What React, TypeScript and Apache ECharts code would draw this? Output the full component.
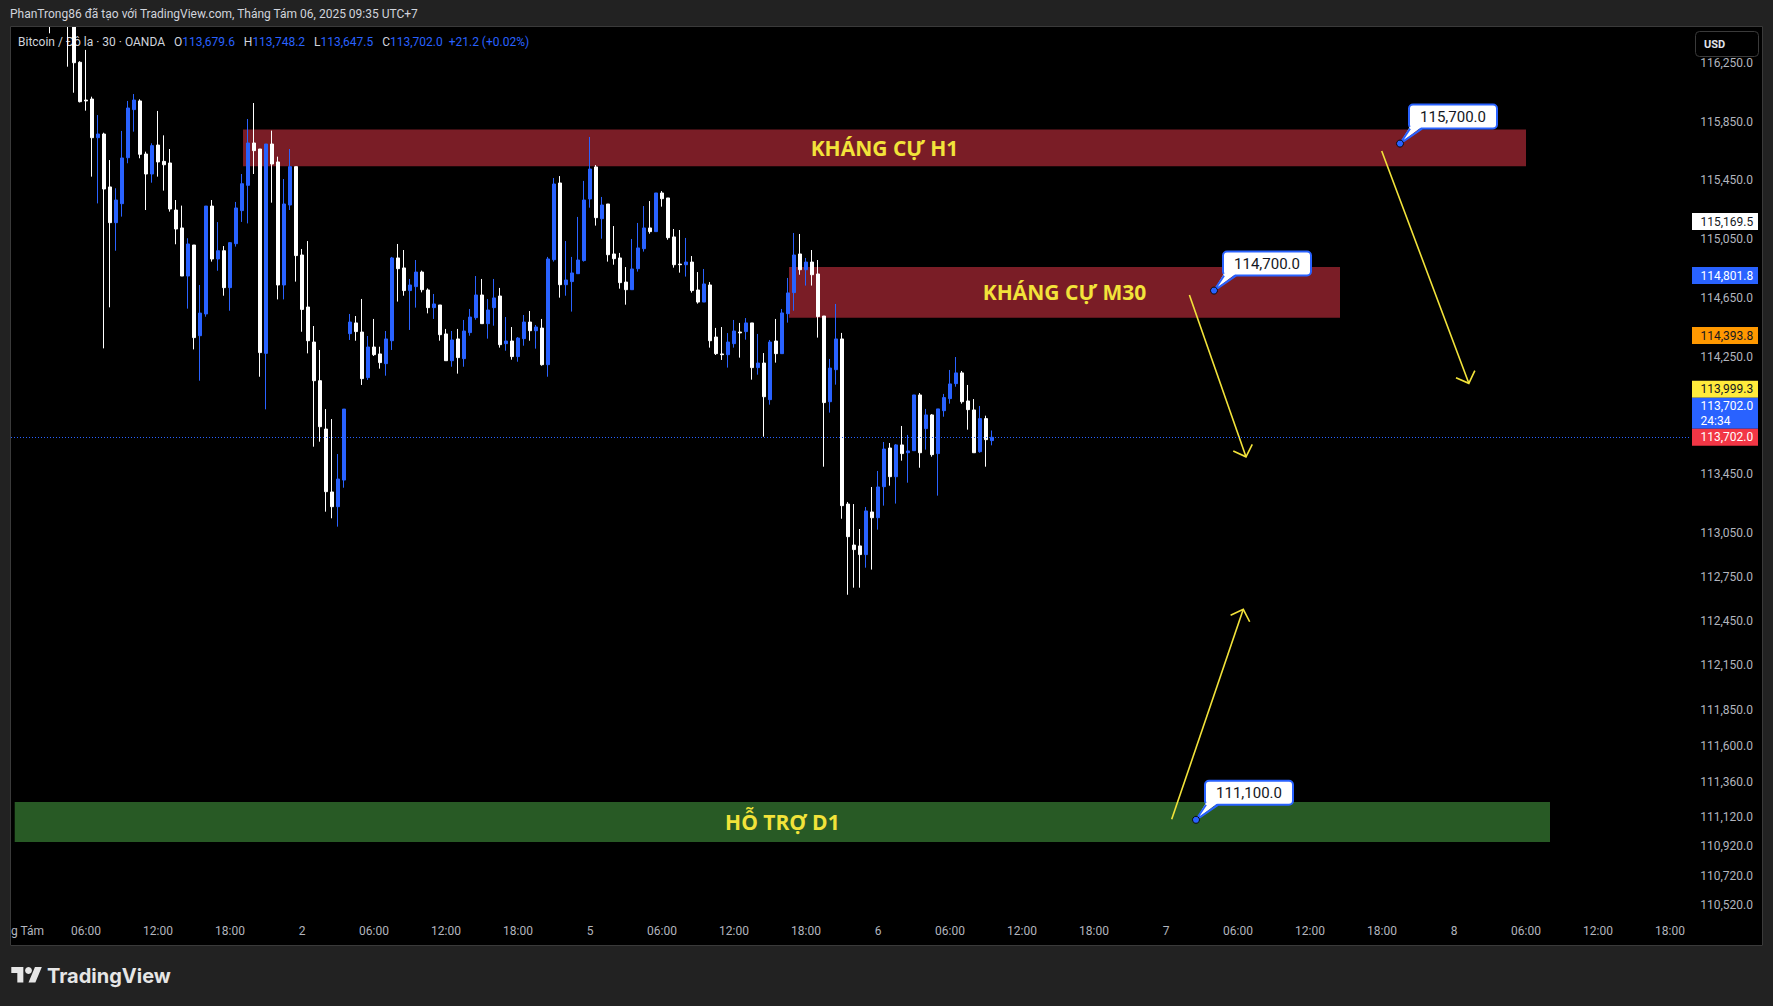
import React, { useEffect, useRef } from 'react';
import * as echarts from 'echarts';

// ---------- DATA ----------
const candleStart = 6; // first slot that holds a candle (30-min slots from 1 Aug 00:00)
const opens = [
  116720, 116600, 116780, 116600, 116520, 116253, 115996, 116003, 115740, 115765,
  115405, 115162, 115291, 115604, 115931, 115990, 115629, 115493, 115690, 115579,
  115568, 115248, 115126, 114799, 115010, 114393, 114541, 115275, 114915, 114971,
  114720, 115019, 115244, 115416, 115704, 115663, 114273, 115697, 115575, 114738,
  115282, 115543, 114942, 114588, 114350, 114087, 113758, 113330, 113230, 113411,
  114407, 114480, 114418, 114108, 114316, 114269, 114203, 114359, 114922, 114854,
  114700, 114727, 114826, 114704, 114584, 114602, 114405, 114223, 114371, 114237,
  114414, 114516, 114670, 114475, 114584, 114663, 114339, 114357, 114251, 114373,
  114486, 114427, 114445, 114196, 114910, 115432, 114740, 114761, 114815, 114904,
  115323, 115541, 115189, 115289, 114949, 114922, 114758, 114706, 114849, 114985,
  115126, 115101, 115364, 115330, 115065, 114880, 114876, 114894, 114704, 114622,
  114738, 114384, 114269, 114264, 114339, 114418, 114421, 114480, 114176, 114207,
  113958, 114357, 114271, 114543, 114686, 114949, 114842, 114894, 114813, 114527,
  113944, 114162, 114371, 113248, 112969, 112963, 112904, 113194, 113155, 113366,
  113629, 113434, 113650, 113597, 113611, 113990, 113761, 113854, 113591, 113883,
  113965, 114067, 114140, 113949, 113888, 113604, 113829, 113679.6
];
const highs = [
  116780, 116850, 116900, 116650, 116560, 116260, 116337, 116019, 115894, 115774,
  115588, 115396, 115786, 115990, 116037, 116001, 115645, 115702, 115922, 115756,
  115663, 115316, 115278, 115056, 115010, 114738, 115275, 115316, 115166, 115003,
  115030, 115303, 115493, 115867, 115976, 115663, 115697, 115788, 115611, 115459,
  115663, 115543, 114983, 115037, 114459, 114296, 113894, 113826, 113588, 113894,
  114541, 114527, 114643, 114391, 114507, 114318, 114425, 114929, 115017, 114976,
  114779, 114908, 114836, 114715, 114677, 114602, 114439, 114425, 114439, 114500,
  114575, 114799, 114779, 114643, 114779, 114718, 114520, 114452, 114384, 114534,
  114561, 114466, 114507, 114929, 115466, 115479, 115037, 114929, 115201, 115446,
  115745, 115554, 115337, 115289, 115139, 114956, 114860, 115051, 115160, 115275,
  115309, 115364, 115377, 115330, 115119, 115112, 115058, 114935, 114826, 114847,
  114758, 114446, 114452, 114411, 114500, 114480, 114513, 114480, 114405, 114275,
  114364, 114507, 114575, 114786, 115092, 115085, 114922, 114976, 114908, 114527,
  114235, 114609, 114412, 113262, 113248, 113078, 113228, 113364, 113473, 113670,
  113663, 113656, 113779, 113718, 113990, 114003, 113895, 113860, 113895, 113997,
  114160, 114248, 114153, 114058, 113962, 113915, 113849, 113748.2
];
const lows = [
  116450, 116560, 116580, 116223, 116046, 115980, 115924, 115475, 115293, 114307,
  114586, 114971, 115203, 115566, 115781, 115600, 115248, 115434, 115475, 115380,
  115237, 115015, 114799, 114577, 114300, 114087, 114522, 114897, 114835, 114665,
  114563, 114999, 115167, 115157, 115493, 114114, 113892, 115298, 114640, 114640,
  115248, 114761, 114420, 114273, 113638, 113672, 113196, 113151, 113094, 113359,
  114364, 114359, 114058, 114092, 114255, 114169, 114121, 114296, 114625, 114665,
  114432, 114584, 114688, 114545, 114507, 114359, 114223, 114182, 114135, 114182,
  114393, 114502, 114475, 114373, 114461, 114312, 114291, 114230, 114216, 114325,
  114359, 114305, 114189, 114114, 114897, 114652, 114665, 114557, 114815, 114897,
  115264, 115142, 115053, 114897, 114876, 114713, 114604, 114706, 114829, 114965,
  115087, 115101, 115271, 115046, 114856, 114822, 114795, 114686, 114611, 114622,
  114312, 114262, 114228, 114176, 114312, 114244, 114366, 114094, 114128, 113706,
  113924, 114210, 114271, 114482, 114563, 114808, 114734, 114734, 114380, 113502,
  113870, 114060, 113148, 112631, 112679, 112679, 112815, 112802, 113074, 113237,
  113373, 113251, 113543, 113393, 113611, 113495, 113618, 113570, 113305, 113842,
  113931, 114046, 113931, 113754, 113597, 113597, 113502, 113647.5
];
const closes = [
  116540, 116780, 116680, 116520, 116250, 115985, 115990, 115740, 115765, 115391,
  115162, 115316, 115602, 115942, 115996, 115627, 115493, 115686, 115575, 115556,
  115255, 115119, 114799, 115017, 114380, 114547, 115275, 114915, 114971, 114720,
  115026, 115262, 115427, 115704, 115652, 114278, 115697, 115561, 114738, 115289,
  115543, 114938, 114572, 114359, 114087, 113774, 113332, 113230, 113418, 113894,
  114486, 114421, 114101, 114316, 114264, 114210, 114371, 114922, 114849, 114700,
  114738, 114826, 114706, 114584, 114609, 114400, 114223, 114364, 114244, 114425,
  114520, 114670, 114475, 114568, 114650, 114332, 114357, 114251, 114377, 114486,
  114427, 114452, 114196, 114915, 115425, 114740, 114772, 114820, 114908, 115316,
  115527, 115196, 115282, 114944, 114917, 114754, 114706, 114847, 114990, 115126,
  115101, 115364, 115325, 115060, 114876, 114876, 114894, 114700, 114622, 114745,
  114359, 114271, 114264, 114350, 114425, 114412, 114480, 114176, 114207, 113978,
  114350, 114271, 114548, 114684, 114942, 114842, 114894, 114808, 114523, 113938,
  114173, 114371, 113237, 113026, 112938, 112904, 113201, 113155, 113364, 113622,
  113434, 113650, 113591, 113609, 113990, 113597, 113854, 113584, 113895, 113972,
  114065, 114140, 113944, 113890, 113597, 113829, 113686, 113702.0
];

const slotCount = 280;
const slots = Array.from({ length: slotCount }, (_, i) => String(i));
const tickLabels = [
  'Tháng Tám', '06:00', '12:00', '18:00', '2', '06:00', '12:00', '18:00',
  '5', '06:00', '12:00', '18:00', '6', '06:00', '12:00', '18:00',
  '7', '06:00', '12:00', '18:00', '8', '06:00', '12:00', '18:00'
];
const priceTicks = [
  116250, 115850, 115450, 115050, 114650, 114250, 113450, 113050, 112750,
  112450, 112150, 111850, 111600, 111360, 111120, 110920, 110720, 110520
];
const priceMin = 110432;
const priceMax = 116493;

const zoneNames = ['KHÁNG CỰ H1', 'KHÁNG CỰ M30', 'HỖ TRỢ D1'];
const zoneFrom = [38.17, 129.17, 0.12];
const zoneTo = [252, 221, 256];
const zoneTop = [115795, 114860, 111221];
const zoneBottom = [115545, 114515, 110949];
const zoneColors = ['#7a1d26', '#7a1d26', '#285a25'];

const calloutSlot = [231, 200, 197];
const calloutPrice = [115700, 114700, 111100];

const arrowFromSlot = [227.95, 195.9, 192.95];
const arrowFromPrice = [115650, 114670, 111103];
const arrowToSlot = [242.47, 205.33, 204.88];
const arrowToPrice = [114069, 113569, 112532];

const tagPrices = [115169.5, 114801.8, 114393.8, 113999.3, 113702.0, 113702.0];
const tagSub = ['', '', '', '', '24:34', ''];
const tagBg = ['#ffffff', '#2962ff', '#ff9800', '#ffeb3b', '#2962ff', '#f23645'];
const tagFg = ['#131722', '#ffffff', '#131722', '#131722', '#ffffff', '#ffffff'];

const lastPrice = 113702.0;
const ohlcLabels = ['O', 'H', 'L', 'C'];
const ohlcValues = [113679.6, 113748.2, 113647.5, 113702.0];
const changeText = '+21.2 (+0.02%)';
const symbolText = 'Bitcoin / Đô la · 30 · OANDA';
const headerText = 'PhanTrong86 đã tạo với TradingView.com, Tháng Tám 06, 2025 09:35 UTC+7';

// ---------- HELPERS ----------
const fmt = (v: number) =>
  v.toLocaleString('en-US', { minimumFractionDigits: 1, maximumFractionDigits: 1 });

const YELLOW = '#f2e33a';
const BLUE = '#2962ff';
const AXIS_TEXT = '#b2b5be';
const FRAME = '#222222';

let logoRegistered = false;
function registerLogo() {
  if (logoRegistered) return;
  const Logo = echarts.graphic.extendPath('M14 22H7V11H0V4h14v18zM28 22h-8l7.5-18h8L28 22z', {});
  echarts.graphic.registerShape('tvLogo', Logo);
  logoRegistered = true;
}

export default function App() {
  const ref = useRef<HTMLDivElement | null>(null);

  useEffect(() => {
    if (!ref.current) return;
    registerLogo();
    const chart = echarts.init(ref.current, null, { renderer: 'svg' });

    const candleData: any[] = slots.slice(0, candleStart + opens.length).map((_, i) => {
      if (i < candleStart) return '-';
      const k = i - candleStart;
      return [opens[k], closes[k], lows[k], highs[k]];
    });

    const legendRich =
      `{g|${symbolText}}   ` +
      ohlcLabels.map((l, i) => `{g|${l}}{b|${fmt(ohlcValues[i])}}`).join('   ') +
      `  {b|${changeText}}`;

    const option: any = {
      animation: false,
      backgroundColor: 'transparent',
      grid: {
        left: 11, top: 27, width: 1680, height: 891,
        containLabel: false, outerBoundsMode: 'none'
      },
      xAxis: [
        {
          type: 'category',
          data: slots,
          boundaryGap: true,
          axisLine: { show: false },
          axisTick: { show: false },
          splitLine: { show: false },
          axisLabel: {
            interval: (i: number) => i % 12 === 0,
            formatter: (_v: string, i: number) => tickLabels[i / 12] ?? '',
            color: AXIS_TEXT,
            fontSize: 12,
            fontFamily: 'Roboto',
            margin: 7
          }
        },
        { type: 'value', min: -0.5, max: slotCount - 0.5, show: false }
      ],
      yAxis: {
        type: 'value',
        position: 'right',
        min: priceMin,
        max: priceMax,
        splitLine: { show: false },
        axisLine: { show: false },
        axisTick: { show: false },
        axisLabel: {
          customValues: priceTicks,
          formatter: (v: number) => fmt(v),
          align: 'right',
          margin: 62,
          color: AXIS_TEXT,
          fontSize: 12,
          fontFamily: 'Roboto'
        }
      },
      graphic: [
        {
          type: 'rect', z: -10, silent: true,
          shape: { x: 10, y: 26, width: 1753, height: 920 },
          style: { fill: '#000000' }
        },
        {
          type: 'rect', z: 50, silent: true,
          shape: { x: 0, y: 0, width: 1773, height: 26.5 },
          style: { fill: FRAME }
        },
        {
          type: 'text', z: 51, silent: true, x: 10, y: 14,
          style: { text: headerText, fill: '#d1d4dc', font: '12px Roboto', verticalAlign: 'middle' }
        },
        {
          type: 'text', z: 1, silent: true, x: 18, y: 42,
          style: {
            text: legendRich,
            font: '12px Roboto',
            fill: '#d1d4dc',
            verticalAlign: 'middle',
            rich: {
              g: { fill: '#d1d4dc', font: '12px Roboto' },
              b: { fill: BLUE, font: '12px Roboto' }
            }
          }
        },
        {
          type: 'rect', z: 10, silent: true,
          shape: { x: 1695.5, y: 31.5, width: 63, height: 25, r: 4 },
          style: { fill: '#000000', stroke: '#3a3a3a', lineWidth: 1 }
        },
        {
          type: 'text', z: 11, silent: true, x: 1704, y: 44,
          style: { text: 'USD', fill: '#e0e3eb', font: 'bold 11px Roboto', verticalAlign: 'middle' }
        },
        {
          type: 'rect', z: 100, silent: true,
          shape: { x: 0, y: 919, width: 10, height: 40 },
          style: { fill: FRAME }
        },
        {
          type: 'rect', z: 101, silent: true,
          shape: { x: 10.5, y: 26.5, width: 1752, height: 919 },
          style: { fill: 'none', stroke: '#3a3a3a', lineWidth: 1 }
        },
        {
          type: 'tvLogo', z: 1, silent: true, x: 11.3, y: 963.6, scaleX: 0.86, scaleY: 0.86,
          style: { fill: '#e6e6e6' }
        },
        {
          type: 'circle', z: 1, silent: true,
          shape: { cx: 11.3 + 20 * 0.86, cy: 963.6 + 8 * 0.86, r: 4 * 0.86 },
          style: { fill: '#e6e6e6' }
        },
        {
          type: 'text', z: 1, silent: true, x: 47, y: 976,
          style: { text: 'TradingView', fill: '#e6e6e6', font: 'bold 20px Inter', verticalAlign: 'middle' }
        }
      ],
      series: [
        {
          type: 'custom',
          name: 'zones',
          xAxisIndex: 1,
          yAxisIndex: 0,
          z: 1,
          silent: true,
          data: zoneNames.map((_, i) => [zoneFrom[i], zoneTo[i], zoneTop[i], zoneBottom[i]]),
          encode: { x: [0, 1], y: [2, 3] },
          renderItem: (params: any, api: any) => {
            const i = params.dataIndex;
            const p1 = api.coord([api.value(0), api.value(2)]);
            const p2 = api.coord([api.value(1), api.value(3)]);
            return {
              type: 'group',
              children: [
                {
                  type: 'rect',
                  shape: { x: p1[0], y: p1[1], width: p2[0] - p1[0], height: p2[1] - p1[1] },
                  style: { fill: zoneColors[i] }
                },
                {
                  type: 'text',
                  x: (p1[0] + p2[0]) / 2,
                  y: (p1[1] + p2[1]) / 2,
                  style: {
                    text: zoneNames[i],
                    fill: YELLOW,
                    font: 'bold 21px "Open Sans"',
                    align: 'center',
                    verticalAlign: 'middle'
                  }
                }
              ]
            };
          }
        },
        {
          type: 'candlestick',
          name: 'BTCUSD',
          xAxisIndex: 0,
          yAxisIndex: 0,
          z: 3,
          clip: true,
          barWidth: 4,
          data: candleData,
          itemStyle: {
            color: BLUE,
            color0: '#ffffff',
            borderColor: BLUE,
            borderColor0: '#ffffff',
            borderWidth: 1
          },
          markLine: {
            silent: true,
            symbol: ['none', 'none'],
            label: { show: false },
            lineStyle: { color: BLUE, type: [1, 2], width: 1 },
            data: [{ yAxis: lastPrice }]
          }
        },
        {
          type: 'custom',
          name: 'arrows',
          xAxisIndex: 1,
          yAxisIndex: 0,
          z: 4,
          silent: true,
          data: arrowFromSlot.map((_, i) => [arrowFromSlot[i], arrowFromPrice[i], arrowToSlot[i], arrowToPrice[i]]),
          encode: { x: [0, 2], y: [1, 3] },
          renderItem: (_params: any, api: any) => {
            const a = api.coord([api.value(0), api.value(1)]);
            const b = api.coord([api.value(2), api.value(3)]);
            const dx = b[0] - a[0];
            const dy = b[1] - a[1];
            const len = Math.hypot(dx, dy);
            const rx = -dx / len;
            const ry = -dy / len;
            const head = 14;
            const ang = (46 * Math.PI) / 180;
            const c = Math.cos(ang);
            const s = Math.sin(ang);
            const w1 = [b[0] + head * (rx * c - ry * s), b[1] + head * (rx * s + ry * c)];
            const w2 = [b[0] + head * (rx * c + ry * s), b[1] + head * (-rx * s + ry * c)];
            return {
              type: 'group',
              children: [
                {
                  type: 'line',
                  shape: { x1: a[0], y1: a[1], x2: b[0], y2: b[1] },
                  style: { stroke: YELLOW, lineWidth: 1.6 }
                },
                {
                  type: 'polyline',
                  shape: { points: [w1, b, w2] },
                  style: { stroke: YELLOW, lineWidth: 1.6, fill: null }
                }
              ]
            };
          }
        },
        {
          type: 'custom',
          name: 'callouts',
          xAxisIndex: 1,
          yAxisIndex: 0,
          z: 5,
          silent: true,
          data: calloutSlot.map((_, i) => [calloutSlot[i], calloutPrice[i]]),
          encode: { x: 0, y: 1 },
          renderItem: (_params: any, api: any) => {
            const price = api.value(1);
            const a = api.coord([api.value(0), price]);
            const bx = a[0] + 9;
            const bb = a[1] - 15;
            const bw = 88;
            const bh = 24;
            return {
              type: 'group',
              children: [
                {
                  type: 'rect',
                  shape: { x: bx, y: bb - bh, width: bw, height: bh, r: 4 },
                  style: { fill: '#ffffff', stroke: BLUE, lineWidth: 2 }
                },
                {
                  type: 'polygon',
                  shape: { points: [[a[0] + 10, bb - 2], [a[0] + 22, bb - 2], [a[0], a[1]]] },
                  style: { fill: '#ffffff' }
                },
                {
                  type: 'polyline',
                  shape: { points: [[a[0] + 10, bb], [a[0], a[1]], [a[0] + 22, bb]] },
                  style: { stroke: BLUE, lineWidth: 2, fill: null }
                },
                {
                  type: 'circle',
                  shape: { cx: a[0], cy: a[1], r: 3.5 },
                  style: { fill: BLUE, stroke: '#0b0b0b', lineWidth: 1 }
                },
                {
                  type: 'text',
                  x: bx + bw / 2,
                  y: bb - bh / 2,
                  style: {
                    text: fmt(price),
                    fill: '#131722',
                    font: '15px Roboto',
                    align: 'center',
                    verticalAlign: 'middle'
                  }
                }
              ]
            };
          }
        },
        {
          type: 'custom',
          name: 'priceTags',
          xAxisIndex: 1,
          yAxisIndex: 0,
          z: 6,
          silent: true,
          clip: false,
          data: tagPrices.map((p) => [0, p]),
          encode: { x: 0, y: 1 },
          renderItem: (params: any, api: any) => {
            const i = params.dataIndex;
            const cs = params.coordSys;
            const x = cs.x + cs.width + 1;
            const ys = tagPrices.map((p) => api.coord([0, p])[1]);
            const hs = tagSub.map((s) => (s ? 31 : 17));
            const order = tagPrices.map((_, k) => k).sort((m, n) => (ys[n] - ys[m]) || (n - m));
            const tops: number[] = [];
            let prevTop = Infinity;
            for (const k of order) {
              let top = ys[k] - hs[k] / 2;
              if (top + hs[k] > prevTop) top = prevTop - hs[k];
              tops[k] = top;
              prevTop = top;
            }
            const top = tops[i];
            const children: any[] = [
              {
                type: 'rect',
                shape: { x, y: top, width: 66, height: hs[i] },
                style: { fill: tagBg[i] }
              },
              {
                type: 'text',
                x: x + 8.5,
                y: tagSub[i] ? top + 8.5 : top + hs[i] / 2,
                style: { text: fmt(tagPrices[i]), fill: tagFg[i], font: '12px Roboto', verticalAlign: 'middle' }
              }
            ];
            if (tagSub[i]) {
              children.push({
                type: 'text',
                x: x + 8.5,
                y: top + 23,
                style: { text: tagSub[i], fill: tagFg[i], font: '12px Roboto', verticalAlign: 'middle' }
              });
            }
            return { type: 'group', children };
          }
        }
      ]
    };

    chart.setOption(option);
    return () => chart.dispose();
  }, []);

  return (
    <div
      style={{
        position: 'fixed',
        left: 0,
        top: 0,
        width: 1773,
        height: 1006,
        background: FRAME,
        overflow: 'hidden'
      }}
    >
      <div ref={ref} style={{ width: 1773, height: 1006 }} />
    </div>
  );
}
